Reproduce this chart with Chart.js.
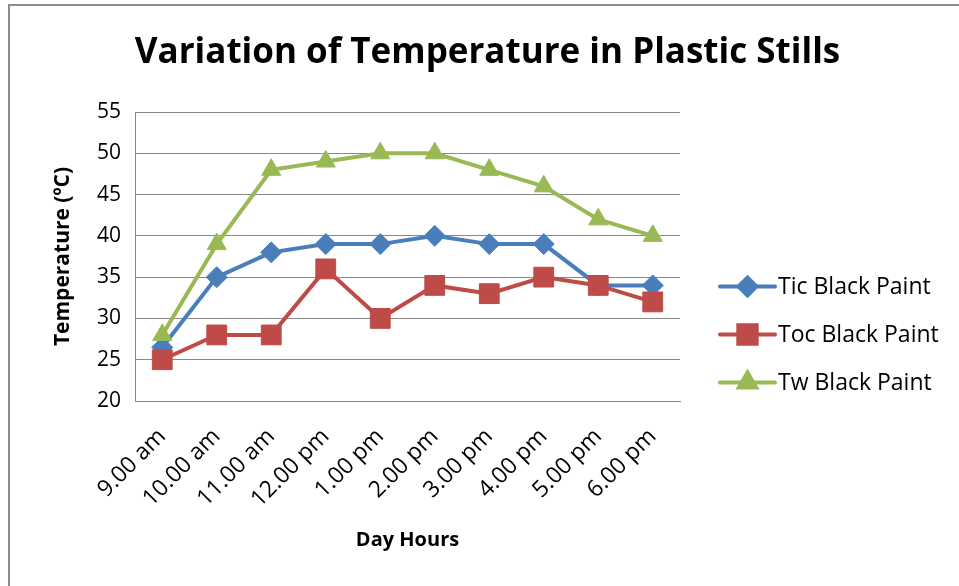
<!DOCTYPE html>
<html>
<head>
<meta charset="utf-8">
<title>Variation of Temperature in Plastic Stills</title>
<script src="https://cdn.jsdelivr.net/npm/chart.js@4.4.1/dist/chart.umd.min.js"></script>
<style>
  html, body { margin: 0; padding: 0; background: #fff; }
  #frame {
    position: absolute; left: 8px; top: 4px; width: 951px; height: 582px;
    border-left: 2px solid #8c8c8c; border-top: 2px solid #8c8c8c;
    box-sizing: border-box;
  }
  #wrap { position: absolute; left: 0; top: 0; width: 959px; height: 586px; }
</style>
</head>
<body>
<div id="frame"></div>
<div id="wrap">
  <canvas id="chart" width="959" height="586"></canvas>
</div>
<script>
// data
const hours = ['9.00 am', '10.00 am', '11.00 am', '12.00 pm', '1.00 pm',
               '2.00 pm', '3.00 pm', '4.00 pm', '5.00 pm', '6.00 pm'];
const ticBlack = [26.5, 35, 38, 39, 39, 40, 39, 39, 34, 34];
const tocBlack = [25, 28, 28, 36, 30, 34, 33, 35, 34, 32];
const twBlack = [28, 39, 48, 49, 50, 50, 48, 46, 42, 40];
const yTicks = [20, 25, 30, 35, 40, 45, 50, 55];

const FONT = '"Open Sans"';
Chart.defaults.font.family = FONT;
Chart.defaults.color = '#000';

// legend on the right: line with marker in the middle, like the spreadsheet one
const sideLegend = {
  id: 'sideLegend',
  afterDraw(chart) {
    const ctx = chart.ctx;
    const area = chart.chartArea;
    const x0 = area.right + 40;
    const yMid = (area.top + area.bottom) / 2;
    ctx.save();
    chart.data.datasets.forEach((ds, i) => {
      const y = yMid + 30 + i * 48;
      ctx.strokeStyle = ds.borderColor;
      ctx.lineWidth = 4;
      ctx.lineCap = 'round';
      ctx.beginPath();
      ctx.moveTo(x0, y);
      ctx.lineTo(x0 + 55, y);
      ctx.stroke();
      ctx.fillStyle = ds.backgroundColor;
      Chart.helpers.drawPoint(ctx, {
        pointStyle: ds.pointStyle,
        radius: ds.legendRadius,
        rotation: 0,
        borderWidth: 1
      }, x0 + 27.5, y);
      ctx.fill();
      ctx.fillStyle = '#000';
      ctx.font = '23px ' + FONT;
      ctx.textBaseline = 'middle';
      ctx.textAlign = 'left';
      ctx.fillText(ds.label, x0 + 58, y + 1);
    });
    ctx.restore();
  }
};

new Chart(document.getElementById('chart'), {
  type: 'line',
  data: {
    labels: hours,
    datasets: [{
      label: 'Tic Black Paint',
      data: ticBlack,
      borderColor: '#4a7ebb',
      backgroundColor: '#4a7ebb',
      pointStyle: 'rectRot',
      pointRadius: 10.5,
      legendRadius: 9,
      order: 2
    }, {
      label: 'Toc Black Paint',
      data: tocBlack,
      borderColor: '#be4b48',
      backgroundColor: '#be4b48',
      pointStyle: 'rect',
      pointRadius: 14,
      legendRadius: 13,
      order: 1
    }, {
      label: 'Tw Black Paint',
      data: twBlack,
      borderColor: '#98b954',
      backgroundColor: '#98b954',
      pointStyle: 'triangle',
      pointRadius: 11,
      legendRadius: 10,
      order: 0
    }]
  },
  options: {
    responsive: false,
    animation: false,
    elements: {
      line: { borderWidth: 4, tension: 0 },
      point: { borderWidth: 1, hoverRadius: 10 }
    },
    layout: { padding: { left: 40, right: 24, top: 0, bottom: 0 } },
    plugins: {
      legend: { display: false },
      tooltip: { enabled: false },
      title: {
        display: true,
        text: 'Variation of Temperature in Plastic Stills',
        color: '#000',
        font: { size: 35, weight: 'bold' },
        padding: { top: 32, bottom: 38 }
      }
    },
    scales: {
      x: {
        offset: true,
        grid: { display: false, drawTicks: false, offset: true },
        border: { color: '#888', width: 1 },
        ticks: { minRotation: 45, maxRotation: 45, padding: 22, font: { size: 23 } },
        title: {
          display: true,
          text: 'Day Hours',
          font: { size: 20, weight: 'bold' },
          padding: { top: 0, bottom: 34 }
        },
        afterFit: s => { s.height = 185; }
      },
      y: {
        min: 20,
        max: 55,
        afterBuildTicks: s => { s.ticks = yTicks.map(v => ({ value: v })); },
        grid: { color: '#888', lineWidth: 1, drawTicks: false },
        border: { color: '#888', width: 1 },
        ticks: { padding: 14, font: { size: 21 } },
        title: {
          display: true,
          text: 'Temperature (ºC)',
          font: { size: 21, weight: 'bold' },
          padding: { top: 10, bottom: 0 }
        },
        afterFit: s => { s.width = 95; }
      },
      yRight: {
        axis: 'y',
        position: 'right',
        grid: { display: false },
        border: { display: false },
        ticks: { display: false },
        afterFit: s => { s.width = 255; }
      }
    }
  },
  plugins: [sideLegend]
});
</script>
</body>
</html>
